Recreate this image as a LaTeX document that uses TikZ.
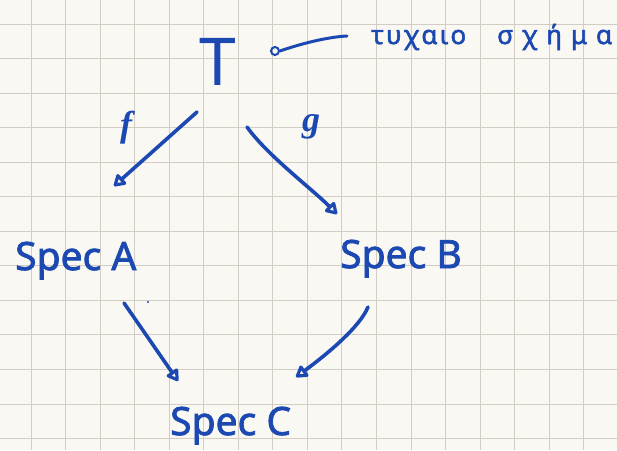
\documentclass[tikz,border=0pt]{standalone}
\usepackage{fontspec}
\setmainfont{Noto Sans}
\newfontfamily\heavy{Noto Sans}[FakeBold=2]
\newfontfamily\fgfont{Liberation Serif}
\usetikzlibrary{arrows.meta}
\definecolor{ink}{RGB}{28,72,178}
\definecolor{paper}{RGB}{250,248,243}
\definecolor{gridc}{RGB}{210,204,196}
\tikzset{
  pen/.style={draw=ink, line width=3.6pt, line cap=round, line join=round},
  arr/.style={pen, -{Triangle[open, length=13pt, width=15pt, line width=3.2pt, round]}},
  lbl/.style={text=ink, inner sep=0pt, font=\heavy\fontsize{39}{39}\selectfont, anchor=base west},
  mlbl/.style={text=ink, inner sep=0pt, font=\fgfont\bfseries\itshape\fontsize{36}{36}\selectfont},
  gridline/.style={draw=gridc, line width=1pt},
}
\begin{document}
\begin{tikzpicture}[x=1pt,y=-1pt]
\fill[paper] (0,0) rectangle (617,450);
\useasboundingbox (0,0) rectangle (617,450);
\foreach \i in {0,...,16} {\pgfmathsetmacro\gx{int(31+34.55*\i)+0.5}\draw[gridline] (\gx,0) -- (\gx,450);}
\foreach \j in {0,...,12} {\pgfmathsetmacro\gy{int(24+34.55*\j)+0.5}\draw[gridline] (0,\gy) -- (617,\gy);}

% nodes
\node[text=ink, inner sep=0pt, anchor=base, font=\fontsize{66}{66}\selectfont] (T) at (218,85) {T};
\node[lbl] (A) at (15,270) {Spec A};
\node[lbl] (B) at (340,268) {Spec B};
\node[lbl] (C) at (170,435) {Spec C};
\node[mlbl] (f) at (126,128) {f};
\node[mlbl] (g) at (311,127) {g};
\node[text=ink, inner sep=0pt, anchor=base west, font=\heavy\fontsize{26}{26}\selectfont] (note) at (371,44)
  {\makebox[241pt][l]{\makebox[95pt][l]{τ\hfill υ\hfill χ\hfill α\hfill ι\hfill ο}\hfill\makebox[115pt][l]{σ\hfill χ\hfill ή\hfill μ\hfill α}}};
\node[circle, draw=ink, line width=2pt, minimum size=8pt, inner sep=0pt] (o) at (275,51) {};
\coordinate (e) at (347,36);

% connectors
\draw[arr] ([shift={(-21,27)}]T.base) -- ([shift={(99,-84)}]A.base west);
\draw[arr] ([shift={(29,42)}]T.base) .. controls +(20,28) and +(-25,-25) .. ([shift={(-3,-54)}]B.base west);
\draw[arr] ([shift={(109,33)}]A.base west) -- ([shift={(8,-54)}]C.base west);
\draw[arr] ([shift={(28,39)}]B.base west) .. controls +(-8,20) and +(30,-22) .. ([shift={(126,-58)}]C.base west);
\draw[pen, line width=3pt] (o.east) .. controls +(20,-7) and +(-20,1) .. (e);
\fill[ink] (148,302) circle (1.2pt);
\end{tikzpicture}
\end{document}
